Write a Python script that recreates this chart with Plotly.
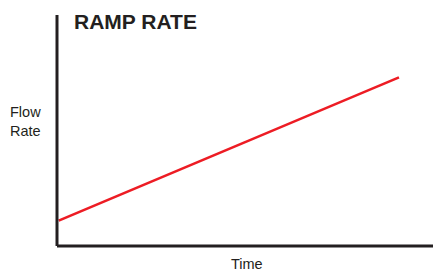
import plotly.graph_objects as go

time = [0, 10]
flow_rate = [1.1, 7.3]

fig = go.Figure()
fig.add_trace(go.Scatter(x=time, y=flow_rate, mode="lines",
                         line=dict(color="#ed1c24", width=2.6), hoverinfo="skip"))

axis_common = dict(showgrid=False, zeroline=False, showticklabels=False, ticks="",
                   showline=False, fixedrange=True)
fig.update_xaxes(range=[-0.05, 11], **axis_common)
fig.update_yaxes(range=[0, 10], **axis_common)

font = "Liberation Sans, Arial, sans-serif"
axis_color = "#231f20"
fig.update_layout(
    width=433, height=271,
    margin=dict(l=57, r=0, t=15, b=25),
    paper_bgcolor="white", plot_bgcolor="white",
    showlegend=False,
    shapes=[
        dict(type="line", xref="paper", yref="paper", x0=0, x1=0, y0=0, y1=1,
             line=dict(color=axis_color, width=3)),
        dict(type="line", xref="paper", yref="paper", x0=0, x1=1, y0=0, y1=0,
             line=dict(color=axis_color, width=3)),
    ],
    annotations=[
        dict(text="<b>RAMP RATE</b>", xref="paper", yref="paper", x=0.04, y=0.974,
             xanchor="left", yanchor="middle", showarrow=False,
             font=dict(family=font, size=21, color=axis_color)),
        dict(text="Flow<br>Rate", xref="paper", yref="paper", x=-0.085, y=0.54,
             xanchor="center", yanchor="middle", showarrow=False,
             font=dict(family=font, size=14.5, color=axis_color)),
        dict(text="Time", xref="paper", yref="paper", x=0.505, y=-0.078,
             xanchor="center", yanchor="middle", showarrow=False,
             font=dict(family=font, size=14.5, color=axis_color)),
    ],
)

fig.write_html("out.html", config={"displayModeBar": False},
               post_script="document.body.style.margin='0';")
